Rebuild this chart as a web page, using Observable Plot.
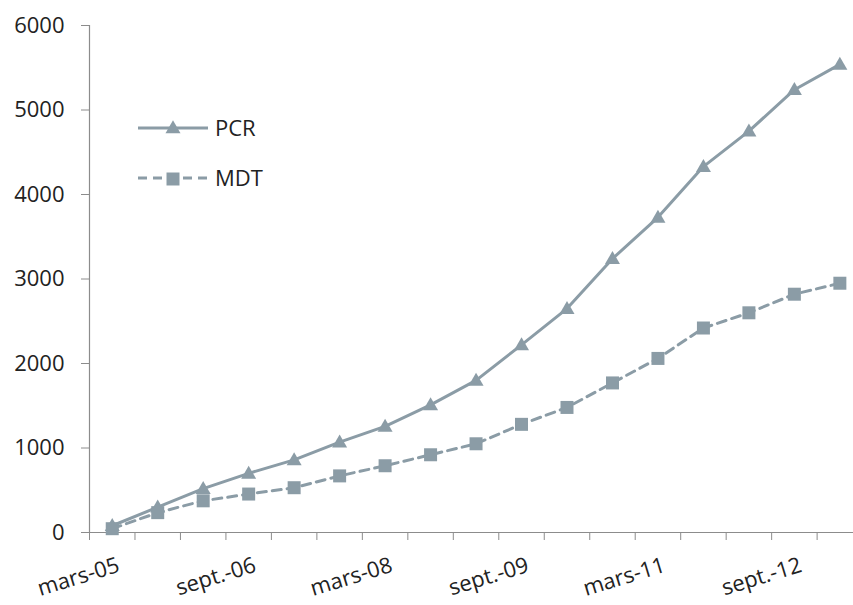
<!DOCTYPE html>
<html>
<head>
<meta charset="utf-8">
<script src="https://cdn.jsdelivr.net/npm/d3@7"></script>
<script src="https://cdn.jsdelivr.net/npm/@observablehq/plot@0.6"></script>
<style>
  html, body { margin: 0; padding: 0; background: #fff; }
  #chart { width: 853px; height: 605px; }
</style>
</head>
<body>
<div id="chart"></div>
<script>
// Half-yearly periods, March 2005 to March 2013
const periods = ["mars-05","sept.-05","mars-06","sept.-06","mars-07","sept.-07","mars-08","sept.-08","mars-09","sept.-09","mars-10","sept.-10","mars-11","sept.-11","mars-12","sept.-12","mars-13"];
// Cumulative counts per series
const pcr = [80, 300, 520, 700, 860, 1070, 1255, 1510, 1800, 2220, 2650, 3240, 3730, 4330, 4750, 5240, 5540];
const mdt = [45, 235, 375, 455, 530, 670, 790, 920, 1050, 1280, 1480, 1770, 2060, 2420, 2600, 2820, 2950];
// Every third period is labelled on the axis
const labelledIdx = [0, 3, 6, 9, 12, 15];
const yTicks = [0, 1000, 2000, 3000, 4000, 5000, 6000];

const color = "#8b9ca6";
const axisColor = "#8c8c8c";
const textColor = "#222";
const font = "'Open Sans', sans-serif";
const fontSize = 22;

const rows = periods.map((p, i) => ({i, period: p, pcr: pcr[i], mdt: mdt[i]}));
const boundaries = d3.range(-0.5, periods.length - 1, 1);

// d3 symbol area for a given side length
const triArea = s => s * s * Math.sqrt(3) / 4;
const triR = Math.sqrt(triArea(15) / Math.PI);
const sqR = Math.sqrt(13 * 13 / Math.PI);

const chart = Plot.plot({
  width: 853,
  height: 605,
  marginLeft: 89,
  marginRight: 0,
  marginTop: 25,
  marginBottom: 73,
  style: {fontFamily: font, fontSize: fontSize + "px", color: textColor, background: "#fff"},
  x: {domain: [-0.5, 16.3], axis: null},
  y: {domain: [0, 6000], axis: null},
  marks: [
    // y axis
    Plot.axisY({ticks: yTicks, tickFormat: d => String(d), tickSize: 8, tickPadding: 17,
      stroke: axisColor, color: textColor, fontSize, label: null}),
    Plot.ruleX([-0.5], {y1: 0, y2: 6000, stroke: axisColor, strokeWidth: 1.2}),
    // x axis line and tick marks between categories
    Plot.ruleY([0], {stroke: axisColor, strokeWidth: 1.2}),
    Plot.axisX({ticks: boundaries, tickFormat: () => "", tickSize: 8, stroke: axisColor, label: null}),
    Plot.text(labelledIdx, {
      x: d => d, y: 0, text: d => periods[d],
      rotate: -17, textAnchor: "end", lineAnchor: "top",
      dx: 4, dy: 24, fontSize, fill: textColor
    }),
    // series
    Plot.line(rows, {x: "i", y: "mdt", stroke: color, strokeWidth: 3, strokeDasharray: "9,6"}),
    Plot.dot(rows, {x: "i", y: "mdt", symbol: "square", r: sqR, fill: color, stroke: "none"}),
    Plot.line(rows, {x: "i", y: "pcr", stroke: color, strokeWidth: 3}),
    Plot.dot(rows, {x: "i", y: "pcr", symbol: "triangle", r: triR, fill: color, stroke: "none", dy: 1})
  ]
});

document.getElementById("chart").appendChild(chart);

// Legend drawn inside the plot area
const svg = d3.select(chart);
const legend = svg.append("g").attr("transform", "translate(138,0)");
const entries = [
  {name: "PCR", y: 128, dash: null, sym: d3.symbol(d3.symbolTriangle, triArea(15))},
  {name: "MDT", y: 178, dash: "9,6", sym: d3.symbol(d3.symbolSquare, 13 * 13)}
];
entries.forEach(e => {
  legend.append("line")
    .attr("x1", 0).attr("x2", 70).attr("y1", e.y).attr("y2", e.y)
    .attr("stroke", color).attr("stroke-width", 3)
    .attr("stroke-dasharray", e.dash);
  legend.append("path")
    .attr("d", e.sym())
    .attr("transform", `translate(35,${e.y + 1})`)
    .attr("fill", color);
  legend.append("text")
    .attr("x", 77).attr("y", e.y).attr("dy", "0.36em")
    .attr("text-anchor", "start")
    .attr("font-family", font).attr("font-size", fontSize)
    .attr("fill", textColor)
    .text(e.name);
});
</script>
</body>
</html>
